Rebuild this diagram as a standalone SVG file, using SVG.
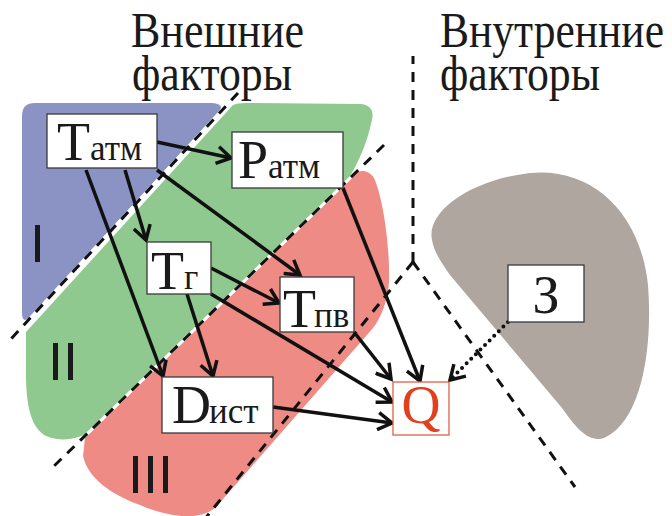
<svg xmlns="http://www.w3.org/2000/svg" width="672" height="516" viewBox="0 0 672 516">
  <defs>
    <style>
      .box { fill: #ffffff; stroke: #3a3a3a; stroke-width: 1.3; }
      .qbox { fill: #ffffff; stroke: #e0604a; stroke-width: 1.3; }
      .sep-under { stroke: #ffffff; stroke-width: 3; fill: none; }
      .sep { stroke: #111111; stroke-width: 3; fill: none; stroke-dasharray: 10 8; }
      .edge { stroke: #111111; stroke-width: 3.5; fill: none; marker-end: url(#arr); }
      .dotted { stroke: #111111; stroke-width: 4; fill: none; stroke-linecap: round; stroke-dasharray: 0 6.5; marker-end: url(#arr); }
    </style>
    <marker id="arr" viewBox="0 0 20 20" refX="17" refY="10" markerWidth="20" markerHeight="20" markerUnits="userSpaceOnUse" orient="auto">
      <path d="M3,1.5 L17,10 L3,18.5" fill="none" stroke="#111111" stroke-width="3.5"/>
    </marker>
  </defs>

  <rect width="672" height="516" fill="#ffffff"/>

  <!-- headings: slightly tall lettering -->
  <g id="headings" fill="#1a1a1a">
    <text font-family="Liberation Serif" font-size="45" transform="translate(131,47) scale(1,1.13)" x="0" y="0" textLength="173" lengthAdjust="spacingAndGlyphs">Внешние</text>
    <text font-family="Liberation Serif" font-size="45" transform="translate(132,90) scale(1,1.13)" x="0" y="0" textLength="160" lengthAdjust="spacingAndGlyphs">факторы</text>
    <text font-family="Liberation Serif" font-size="45" transform="translate(440,47) scale(1,1.13)" x="0" y="0" textLength="224" lengthAdjust="spacingAndGlyphs">Внутренние</text>
    <text font-family="Liberation Serif" font-size="45" transform="translate(440,90) scale(1,1.13)" x="0" y="0" textLength="160" lengthAdjust="spacingAndGlyphs">факторы</text>
  </g>

  <!-- factor zones -->
  <g id="zones">
    <path id="zone-I" fill="#8a93c3" d="M22,116 Q22,103 35,103 L212,103 Q225,104 219,111 L29,318 Q22,324 22,312 Z"/>
    <path id="zone-II" fill="#8fc98f" d="M233,105 Q237,103 246,103 L360,104 Q377,105 371,124 C366,146 357,166 345,184 L91,430 C80,440 60,442 46,436 C32,428 27,410 26,380 L26,332 Z"/>
    <path id="zone-III" fill="#ee8b84" d="M350,180 C356,168 368,169 374,178 C384,200 390,250 389,282 C388,300 381,318 373,328 L216,507 C200,521 170,518 140,505 C110,494 88,478 83,456 L85,438 Z"/>
    <path id="zone-internal" fill="#aea69f" d="M432,240 C426,212 470,180 530,173 C590,167 640,210 648,285 C653,350 641,420 606,437 C590,445 576,428 562,408 L450,275 C441,262 434,252 432,240 Z"/>
    <text font-family="Liberation Sans" font-size="54" fill="#1a1a1a" x="30" y="262">I</text>
    <text font-family="Liberation Sans" font-size="54" fill="#1a1a1a" x="48" y="380">II</text>
    <text font-family="Liberation Sans" font-size="54" fill="#1a1a1a" x="128" y="493">III</text>
  </g>

  <!-- zone boundaries -->
  <g id="boundaries">
    <line class="sep-under" x1="238" y1="93" x2="10" y2="340"/>
    <line class="sep" x1="238" y1="93" x2="10" y2="340"/>
    <line class="sep-under" x1="384" y1="145" x2="53" y2="467"/>
    <line class="sep" x1="384" y1="145" x2="53" y2="467"/>
    <line class="sep" x1="413" y1="262" x2="413" y2="56"/>
    <line class="sep" x1="413" y1="262" x2="204" y2="520"/>
    <line class="sep" x1="413" y1="262" x2="575" y2="487"/>
  </g>

  <!-- connectors -->
  <g id="connectors">
    <line class="edge" x1="157" y1="142" x2="231" y2="158"/>
    <line class="edge" x1="125" y1="170" x2="146" y2="240"/>
    <line class="edge" x1="86" y1="170" x2="163" y2="376"/>
    <line class="edge" x1="157" y1="170" x2="300" y2="275"/>
    <line class="edge" x1="187" y1="294" x2="213" y2="376"/>
    <line class="edge" x1="211" y1="268" x2="279" y2="303"/>
    <line class="edge" x1="211" y1="294" x2="392" y2="402"/>
    <line class="edge" x1="354" y1="332" x2="391" y2="379"/>
    <line class="edge" x1="343" y1="188" x2="420" y2="381"/>
    <line class="edge" x1="273" y1="407" x2="392" y2="423"/>
    <line class="dotted" x1="508" y1="322" x2="450" y2="380"/>
  </g>

  <!-- nodes -->
  <g id="node-Tatm">
    <rect class="box" x="47" y="114" width="110" height="54"/>
    <text font-family="Liberation Serif" font-size="54" fill="#1a1a1a" x="57" y="160">T<tspan font-size="35">атм</tspan></text>
  </g>
  <g id="node-Patm">
    <rect class="box" x="232" y="132" width="111" height="56"/>
    <text font-family="Liberation Serif" font-size="54" fill="#1a1a1a" x="238" y="178">P<tspan font-size="35">атм</tspan></text>
  </g>
  <g id="node-Tg">
    <rect class="box" x="147" y="242" width="64" height="52"/>
    <text font-family="Liberation Serif" font-size="54" fill="#1a1a1a" x="151" y="289">T<tspan font-size="35">г</tspan></text>
  </g>
  <g id="node-Tpv">
    <rect class="box" x="280" y="277" width="74" height="55"/>
    <text font-family="Liberation Serif" font-size="54" fill="#1a1a1a" x="283" y="327">T<tspan font-size="35" dx="-2">пв</tspan></text>
  </g>
  <g id="node-Dist">
    <rect class="box" x="162" y="377" width="111" height="56"/>
    <text font-family="Liberation Serif" font-size="54" fill="#1a1a1a" x="172" y="423">D<tspan font-size="35" dx="-2">ист</tspan></text>
  </g>
  <g id="node-Q">
    <rect class="qbox" x="393" y="382" width="56" height="53"/>
    <text font-family="Liberation Serif" font-size="54" fill="#e0401e" x="421" y="423" text-anchor="middle">Q</text>
  </g>
  <g id="node-Z">
    <rect class="box" x="508" y="265" width="76" height="57"/>
    <text font-family="Liberation Serif" font-size="54" fill="#1a1a1a" x="546" y="313" text-anchor="middle">З</text>
  </g>
</svg>
